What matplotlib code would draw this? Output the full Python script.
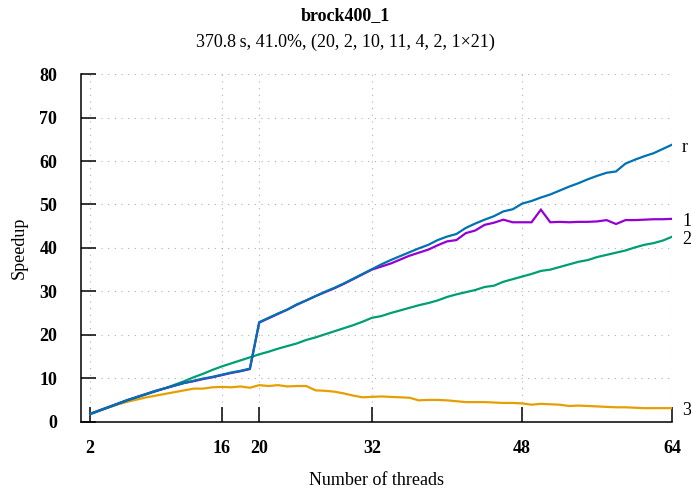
import numpy as np
import matplotlib
matplotlib.use("Agg")
import matplotlib.pyplot as plt

plt.rcParams['font.family'] = ['Liberation Serif', 'DejaVu Serif']

# thread counts 2..64
threads = list(range(2, 65))

speedup_r = [1.8, 2.6, 3.4, 4.2, 5.0, 5.7, 6.4, 7.1, 7.7, 8.3, 8.9, 9.4, 9.9, 10.3, 10.8, 11.3, 11.7, 12.2,
             22.9, 23.9, 24.9, 25.8, 27.0, 27.9, 28.9, 29.9, 30.8, 31.8, 32.9, 34.0, 35.1,
             36.2, 37.2, 38.1, 39.0, 39.9, 40.7, 41.8, 42.6, 43.2, 44.6, 45.6, 46.5, 47.3, 48.4, 48.9, 50.2,
             50.8, 51.6, 52.3, 53.2, 54.1, 54.9, 55.8, 56.6, 57.3, 57.6, 59.4, 60.3, 61.1, 61.8, 62.8, 63.8]
speedup_1 = [1.8, 2.6, 3.4, 4.2, 5.0, 5.7, 6.4, 7.1, 7.7, 8.3, 8.9, 9.3, 9.8, 10.2, 10.7, 11.2, 11.6, 12.1,
             22.8, 23.8, 24.8, 25.8, 26.9, 27.9, 28.9, 29.8, 30.7, 31.7, 32.8, 33.9, 35.0,
             35.7, 36.4, 37.3, 38.2, 38.9, 39.6, 40.6, 41.5, 41.8, 43.4, 44.0, 45.3, 45.8, 46.5, 45.9, 45.9,
             45.9, 48.8, 45.9, 46.0, 45.9, 46.0, 46.0, 46.1, 46.4, 45.5, 46.4, 46.4, 46.5, 46.6, 46.6, 46.7]
speedup_2 = [1.7, 2.5, 3.3, 4.1, 4.9, 5.6, 6.3, 7.0, 7.7, 8.5, 9.3, 10.2, 11.0, 11.9, 12.7, 13.4, 14.1, 14.8,
             15.5, 16.1, 16.8, 17.4, 18.0, 18.8, 19.4, 20.1, 20.8, 21.5, 22.2, 23.0, 23.9,
             24.3, 25.0, 25.6, 26.2, 26.8, 27.3, 27.9, 28.7, 29.3, 29.8, 30.3, 31.0, 31.3, 32.2, 32.8, 33.4,
             34.0, 34.7, 35.0, 35.6, 36.2, 36.8, 37.2, 37.9, 38.4, 38.9, 39.4, 40.1, 40.7, 41.1, 41.7, 42.6]
speedup_3 = [1.8, 2.6, 3.3, 4.0, 4.6, 5.1, 5.6, 6.0, 6.4, 6.8, 7.2, 7.6, 7.6, 7.9, 8.0, 7.9, 8.1, 7.8,
             8.4, 8.2, 8.4, 8.1, 8.2, 8.2, 7.2, 7.1, 6.9, 6.5, 6.0, 5.6, 5.7,
             5.8, 5.7, 5.6, 5.5, 4.9, 5.0, 5.0, 4.9, 4.7, 4.5, 4.5, 4.5, 4.4, 4.3, 4.3, 4.2,
             3.9, 4.1, 4.0, 3.9, 3.6, 3.7, 3.6, 3.5, 3.4, 3.3, 3.3, 3.2, 3.1, 3.1, 3.1, 3.1]

xticks = [2, 16, 20, 32, 48, 64]
yticks = list(range(0, 90, 10))

series = [
    ("3", speedup_3, "#e69f00"),
    ("2", speedup_2, "#009e73"),
    ("1", speedup_1, "#9400d3"),
    ("r", speedup_r, "#0072b2"),
]

fs = 13

fig = plt.figure(figsize=(6.91, 4.88), dpi=100)
ax = fig.add_axes([0.117, 0.136, 0.856, 0.712])

for name, vals, col in series:
    ax.plot(threads, vals, color=col, lw=1.6, solid_joinstyle='miter')
    ax.annotate(name, xy=(threads[-1], vals[-1]), xytext=(7, -2), textcoords='offset points',
                va='center', ha='left', fontsize=fs, annotation_clip=False)

ax.set_xlim(1, 64)
ax.set_ylim(0, 80)
ax.set_xticks(xticks)
ax.set_yticks(yticks)
ax.tick_params(axis='x', direction='in', length=11, width=1.1, pad=13, labelsize=fs)
ax.tick_params(axis='y', direction='in', length=11, width=1.1, pad=17, labelsize=fs)
for lab in ax.get_xticklabels() + ax.get_yticklabels():
    lab.set_fontweight('bold')

ax.grid(True, color='#b0b0b0', lw=0.8, linestyle=(0, (1, 5)))
for s in ['top', 'right']:
    ax.spines[s].set_visible(False)
for s in ['left', 'bottom']:
    ax.spines[s].set_linewidth(1.1)

ax.set_xlabel("Number of threads", fontsize=fs, labelpad=11)
ax.set_ylabel("Speedup", fontsize=fs, labelpad=8)

fig.text(0.5, 0.968, "brock400_1", ha='center', va='center', fontsize=fs, fontweight='bold')
fig.text(0.5, 0.914, "370.8\u2009s, 41.0%, (20, 2, 10, 11, 4, 2, 1\u00d721)", ha='center', va='center', fontsize=fs)

fig.savefig("out.png", dpi=100)
